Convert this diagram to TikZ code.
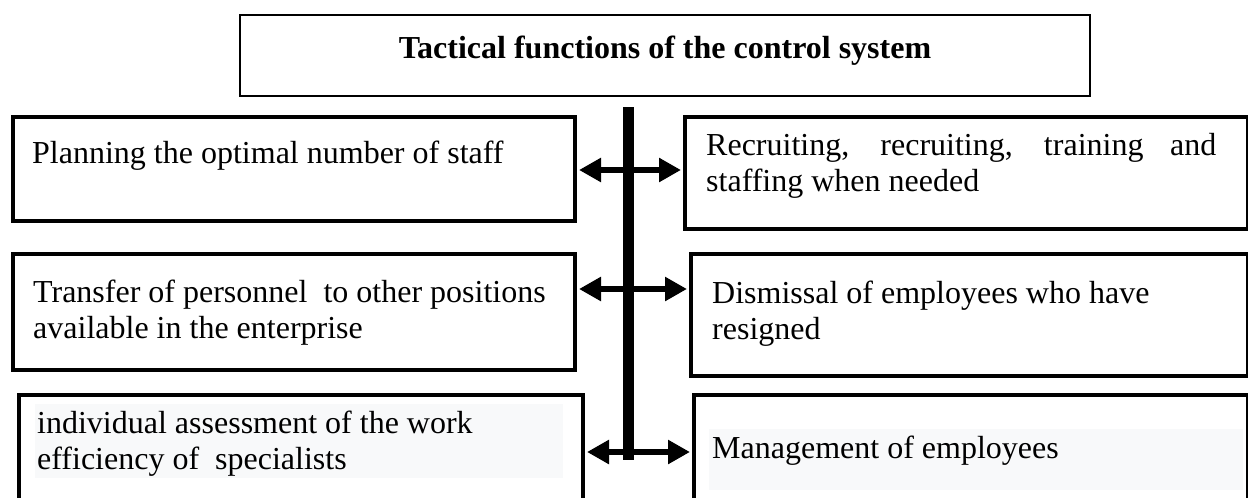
\documentclass[tikz,border=0pt]{standalone}
\usepackage{fontspec}
\setmainfont{Liberation Serif}
\usetikzlibrary{arrows.meta,positioning}

\definecolor{panel}{HTML}{F8F9FA}

\tikzset{
  box/.style={draw, line width=4pt, anchor=north west, inner sep=0pt},
  txt/.style={anchor=north west, inner sep=0pt, align=left, font=\fontsize{32}{36}\selectfont},
  link/.style={{Triangle[length=22pt,width=23pt]}-{Triangle[length=22pt,width=23pt]}, line width=6.5pt, shorten <=2pt, shorten >=2pt},
}

\begin{document}
\begin{tikzpicture}[x=1pt,y=-1pt]
\clip (0,0) rectangle (1248,498);
\fill[white] (0,0) rectangle (1248,498);

% Heading
\node[draw, line width=2.5pt, minimum width=850pt, minimum height=81pt,
      text height=22pt, text depth=17pt,
      font=\bfseries\fontsize{32}{36}\selectfont] (title) at (665,55.5)
      {Tactical functions of the control system};

% Left column
\node[box, minimum width=562pt, minimum height=104pt] (plan) at (11,115) {};
\node[box, minimum width=562pt, minimum height=116pt] (move) at (11,252) {};
\node[box, minimum width=564pt, minimum height=127pt] (rate) at (17,393) {};

% Right column
\node[box, minimum width=563pt, minimum height=112pt] (hire) at (683,115) {};
\node[box, minimum width=557pt, minimum height=122pt] (quit) at (689,252) {};
\node[box, minimum width=554pt, minimum height=127pt] (lead) at (692,393) {};

% Shaded text strips
\fill[panel] (35,404) rectangle (563,478);
\fill[panel] (709,429) rectangle (1243,490);

% Texts
\node[txt] (plantxt) at (32,141) {Planning the optimal number of staff};
\node[txt, text width=510pt, align=justify] (hiretxt) at (706,133)
      {Recruiting, recruiting, training and staffing when needed};
\node[txt] (movetxt) at (33,280) {Transfer of personnel\ \ to other positions\\available in the enterprise};
\node[txt] (quittxt) at (712,281) {Dismissal of employees who have\\resigned};
\node[txt] (ratetxt) at (37,411) {individual assessment of the work\\efficiency of\ \ specialists};
\node[txt] (leadtxt) at (712,436) {Management of employees};

% Spine
\coordinate (top) at (628.5,107);
\coordinate (bot) at (628.5,460);
\draw[line width=11pt] (top) -- (bot);

% Links to both sides
\foreach \y/\l/\r in {170/plan/hire, 289/move/quit, 452/rate/lead} {
  \coordinate (row) at (628.5,\y);
  \draw[link] (\l.east |- row) -- (\r.west |- row);
}
\end{tikzpicture}
\end{document}
